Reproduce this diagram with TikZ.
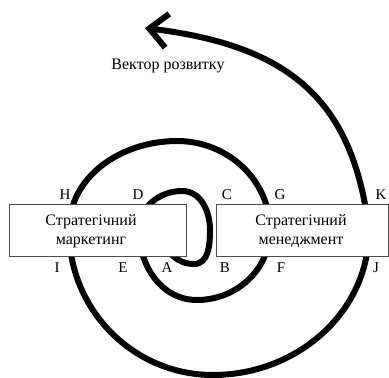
\documentclass[tikz,border=0pt]{standalone}
\usepackage{fontspec}
\setmainfont{Liberation Serif}
\usetikzlibrary{positioning,arrows.meta}

\begin{document}
\begin{tikzpicture}[
  x=1pt,y=1pt,
  spiral/.style={line width=6pt,line cap=butt},
  strbox/.style={rectangle,draw=black!70,line width=0.8pt,fill=white,minimum height=52pt,inner sep=0pt},
  strtext/.style={align=center,inner sep=0pt,font=\fontsize{16}{19}\selectfont},
  ptlabel/.style={anchor=base,inner sep=0pt,font=\fontsize{15}{18}\selectfont},
]
\useasboundingbox (0,0) rectangle (389,378);

% === turning points of the spiral ===
\coordinate (S)  at (164,142);
\coordinate (B1) at (194,114);
\coordinate (R1) at (210,148);
\coordinate (T1) at (182,187);
\coordinate (L1) at (139,148);
\coordinate (B2) at (197,78);
\coordinate (R2) at (270,148);
\coordinate (T2) at (177,237);
\coordinate (L2) at (69,148);
\coordinate (B3) at (213,3);
\coordinate (R3) at (369,148);
\coordinate (tip) at (145,350);

% === spiral with arrow ===
\draw[spiral,-{Straight Barb[length=18pt,width=34pt]}]
  (S) to[out=-90,in=180] (B1) to[out=0,in=-90] (R1) to[out=90,in=0] (T1)
  to[out=180,in=90] (L1) to[out=-90,in=180] (B2) to[out=0,in=-90] (R2)
  to[out=90,in=0] (T2) to[out=180,in=90] (L2) to[out=-90,in=180] (B3)
  to[out=0,in=-90] (R3)
  to[out=97,in=-7,out distance=131pt,in distance=146pt] (tip);

\node[font=\fontsize{16}{19}\selectfont,anchor=base] (vector) at (168,308) {Вектор розвитку};

% === boxes ===
\node[strbox,minimum width=177pt] (mkbox) at (97.5,148) {};
\node[strbox,minimum width=172pt] (mgbox) at (302,148) {};
\node[strtext] (mktext) at (91,147) {Стратегічний\\маркетинг};
\node[strtext] (mgtext) at (301,147) {Стратегічний\\менеджмент};

% === point labels ===
\node[ptlabel] (H) at (65,178) {H};
\node[ptlabel] (D) at (138,178) {D};
\node[ptlabel] (C) at (227,178) {C};
\node[ptlabel] (G) at (280,178) {G};
\node[ptlabel] (K) at (381,178) {K};
\node[ptlabel] (I) at (57,105) {I};
\node[ptlabel] (E) at (123,105) {E};
\node[ptlabel] (A) at (167,105) {A};
\node[ptlabel] (B) at (225,105) {B};
\node[ptlabel] (F) at (281,105) {F};
\node[ptlabel] (J) at (376,105) {J};

\end{tikzpicture}
\end{document}
